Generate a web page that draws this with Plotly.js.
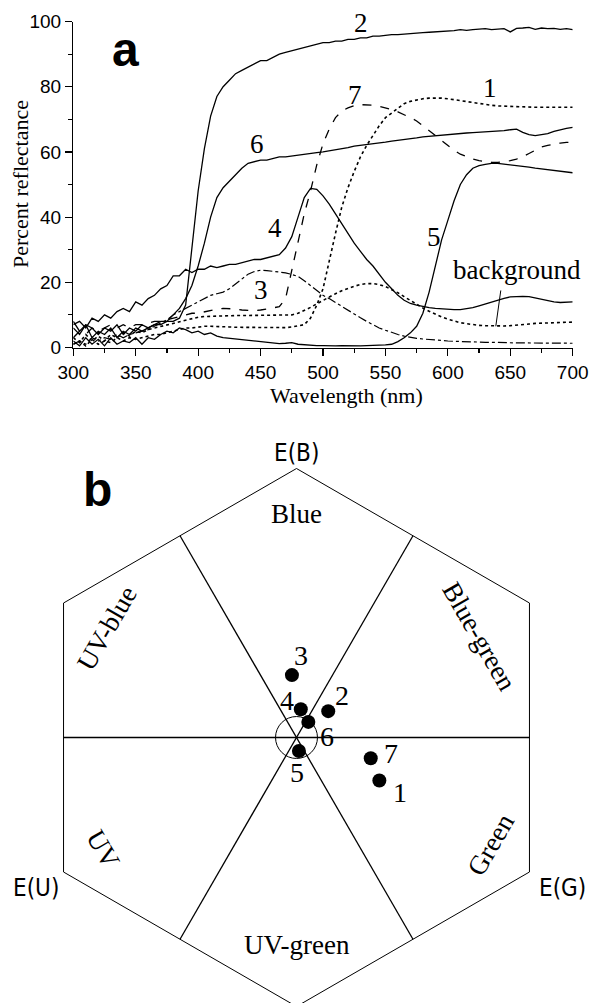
<!DOCTYPE html>
<html>
<head>
<meta charset="utf-8">
<script src="https://cdn.plot.ly/plotly-3.0.1.min.js"></script>
<style>html,body{margin:0;padding:0;background:#fff;}#chart{width:589px;height:1003px;}</style>
</head>
<body>
<div id="chart"></div>
<script>
// ---------- Panel a data: reflectance spectra ----------
const wavelength = [300,305,310,315,320,325,330,335,340,345,
  350,355,360,365,370,375,380,385,390,395,
  400,405,410,415,420,425,430,435,440,445,
  450,455,460,465,470,475,480,485,490,495,
  500,505,510,515,520,525,530,535,540,545,
  550,555,560,565,570,575,580,585,590,595,
  600,605,610,615,620,625,630,635,640,645,
  650,655,660,665,670,675,680,685,690,695,
  700];

const spectrum1 = [1,2,0.5,2.5,1,2,1.5,3,2,3,
  2.5,3,3.5,4,4,4.5,5,5.5,6,6,
  6.3,6.5,6.5,6.5,6.4,6.3,6.2,6.2,6.1,6,
  6,6,6,6,6.1,6.3,6.6,7,9,13,
  18,27,35,43,49,54,58.5,62,65,68,
  70.5,72,73.5,74.8,75.5,76,76.3,76.5,76.6,76.5,
  76.3,76,75.7,75.3,75,74.7,74.5,74.3,74.1,74,
  73.9,73.8,73.7,73.7,73.7,73.7,73.7,73.7,73.7,73.7,
  73.7];

const spectrum2 = [6,4,7,3,5,4,6,3,5,4,
  6,5,6,7,7,8,8,9,13,31,
  48,61,71,77,80,82,84,85,86,87,
  88,88,89,90,90.5,91,91.5,92,92.5,93,
  93.5,93.5,94,94,94.5,94.5,95,95,95.5,95.5,
  95.8,96,96,96.2,96.4,96.5,96.6,96.7,96.8,97,
  97,97.2,97.5,97.3,97.5,97.6,97.8,97.5,97.7,97.8,
  96.8,97.9,98,98.2,97.6,98,97.8,97.9,97.6,97.8,
  97.5];

const spectrum3 = [1,2,1,3,2,3,2.5,4,3,4,
  4.5,5,5.5,6.5,7.5,8.5,10,11,12,13,
  14,15,16,16.5,17,18,19.5,21,22.5,23.3,
  23.7,23.6,23.4,23.2,22.9,22.4,21.8,20.5,19,17.5,
  16,15,13.8,12.5,11.3,10.2,9.1,8,7,6,
  5.3,4.6,4,3.5,3.1,2.8,2.6,2.4,2.2,2.1,
  2,1.9,1.8,1.8,1.7,1.7,1.6,1.6,1.5,1.5,
  1.5,1.4,1.4,1.4,1.3,1.3,1.3,1.3,1.3,1.3,
  1.3];

const spectrum4 = [7,8,6,9,8,10,9,11,12,11,
  14,13,15,16,18,19,22,22,24,23,
  24,24,25,24.5,25,25.5,25.5,26,26.5,27,
  27,27.5,28,28.5,30.5,34,40,46,48.8,48.5,
  46.5,44,41,38,35,32,29.5,27,25,22.5,
  20,18,16,14.5,13.5,13,12.5,12.2,12,11.8,
  11.7,11.6,11.6,11.8,12.2,12.8,13.4,14,14.6,15.1,
  15.5,15.7,15.7,15.6,15.2,14.7,14.3,14,13.8,14,
  14];

const spectrum5 = [2,0.5,3,1,2.5,0.5,3,1,2,1.5,
  3,1,3,2.5,4,5,4.5,6,5.5,4.5,
  5,4,4.5,3.5,3,2.8,2.5,2.2,2,1.8,
  1.6,1.5,1.3,1.2,1.3,1.5,1,0.8,0.8,0.6,
  0.6,0.5,0.5,0.6,0.5,0.5,0.5,0.6,0.6,0.7,
  0.8,1,1.8,3,4.5,6.5,10.5,17,25,33,
  39,45,50,53,55,55.8,56.2,56.5,56.5,56.3,
  56,55.8,55.5,55.3,55,54.8,54.5,54.2,54,53.8,
  53.6];

const spectrum6 = [8,5,7,6,4,6,5,7,4,6,
  5,7,6,7,8,8,10,12,15,19,
  25,32,40,46,49,51,53,55,56.5,57,
  57.5,57.5,58,58.5,58.5,58.8,59,59.3,59.5,59.8,
  60,60.3,60.5,61,61.3,61.8,62,62.3,62.5,62.8,
  63,63.3,63.5,63.8,64,64.3,64.6,64.8,65,65.2,
  65.4,65.5,65.6,65.8,65.9,66,66,66.2,66.3,66.5,
  66.8,67,66,65.3,65,65.2,65.6,66.3,66.8,67.2,
  67.5];

const spectrum7 = [3,5,4,6,5,6,7,6,7,6,
  7,7,7.5,8,8,8.5,9,9.5,10,10.5,
  10.5,11,11.5,11.8,12,12,11.8,11.5,11.3,11.3,
  11.5,11.8,12,12.5,15,24,33,41,48,56,
  62.5,67,70.5,72.5,73.5,74.2,74.5,74.5,74.3,74,
  73.6,73,72.3,71.5,70.5,69.5,68,66.5,65,63.3,
  62,60.5,59.3,58.5,57.8,57.3,57,56.8,56.8,57,
  57.3,57.8,58.5,59.5,60.5,61.5,62,62.4,62.7,62.9,
  63];

const spectrumBg = [3,1.5,4,2,3.5,2,4,3,4.5,3.5,
  5,4.5,5.5,6,6.5,7,7.5,8,8.5,9,
  9.3,9.5,9.6,9.7,9.8,9.8,9.8,9.8,9.8,9.8,
  9.8,9.8,9.8,9.8,9.8,10,10.5,11.3,12.3,13.4,
  14.5,15.5,16.5,17.4,18.2,18.8,19.3,19.6,19.6,19.3,
  18.7,17.8,16.8,15.6,14.4,13.2,12.1,11.1,10.2,9.4,
  8.7,8.1,7.6,7.3,7,6.8,6.7,6.6,6.6,6.6,
  6.7,6.8,7,7.2,7.4,7.5,7.6,7.7,7.8,7.8,
  7.8];

// ---------- Panel b data: colour hexagon loci ----------
const pointLabels = ["1","2","3","4","5","6","7"];
const pointX = [0.308, 0.118, -0.017, 0.016, 0.009, 0.044, 0.276];
const pointY = [-0.160, 0.098, 0.232, 0.105, -0.050, 0.058, -0.077];
const sectorNames = ["Blue","Blue-green","Green","UV-green","UV","UV-blue"];
const receptorNames = ["E(B)","E(G)","E(U)"];

// ---------- Style / layout config ----------
const W = 589, H = 1003;
const serif = "Liberation Serif, Times New Roman, serif";
const sans = "Liberation Sans, Arial, sans-serif";
const rounded = "DejaVu Sans Condensed, DejaVu Sans, sans-serif";
const px = (x, y) => ({x: x / W, y: 1 - y / H});

const seriesStyle = [
  {y: spectrum1, dash: "dot", width: 1.6},
  {y: spectrum2, dash: "solid", width: 1.3},
  {y: spectrum3, dash: "dashdot", width: 1.2},
  {y: spectrum4, dash: "solid", width: 1.3},
  {y: spectrum5, dash: "solid", width: 1.3},
  {y: spectrum6, dash: "solid", width: 1.3},
  {y: spectrum7, dash: "dash", width: 1.3},
  {y: spectrumBg, dash: "dot", width: 1.6}
];

const traces = seriesStyle.map(s => ({
  type: "scatter", mode: "lines", x: wavelength, y: s.y,
  xaxis: "x", yaxis: "y", hoverinfo: "skip",
  line: {color: "black", width: s.width, dash: s.dash}
}));

// Hexagon geometry (unit radius, pointed top)
const vertexAngles = [90, 30, -30, -90, -150, 150, 90];
const rad = d => d * Math.PI / 180;
traces.push({
  type: "scatter", mode: "lines", xaxis: "x2", yaxis: "y2", hoverinfo: "skip",
  x: vertexAngles.map(a => Math.cos(rad(a))),
  y: vertexAngles.map(a => Math.sin(rad(a))),
  line: {color: "black", width: 1}
});
// Sector boundary lines through the centre, joining opposite edge midpoints
const apothem = Math.cos(rad(30));
const boundaryAngles = [0, 60, 120];
const bx = [], by = [];
boundaryAngles.forEach(a => {
  bx.push(apothem * Math.cos(rad(a)), apothem * Math.cos(rad(a + 180)), null);
  by.push(apothem * Math.sin(rad(a)), apothem * Math.sin(rad(a + 180)), null);
});
traces.push({
  type: "scatter", mode: "lines", xaxis: "x2", yaxis: "y2", hoverinfo: "skip",
  x: bx, y: by, line: {color: "black", width: 1.3}
});
// Points
traces.push({
  type: "scatter", mode: "markers", xaxis: "x2", yaxis: "y2", hoverinfo: "skip",
  x: pointX, y: pointY, marker: {color: "black", size: 14}
});

const annotations = [];
const addText = (text, pos, size, family, extra) => {
  const p = px(pos[0], pos[1]);
  annotations.push(Object.assign({
    text: text, x: p.x, y: p.y, xref: "paper", yref: "paper",
    showarrow: false, xanchor: "center", yanchor: "middle",
    font: {family: family, size: size, color: "black"}
  }, extra || {}));
};

// Panel letters & axis titles
addText("<b>a</b>", [125, 50], 48, sans);
addText("<b>b</b>", [97, 489], 48, sans);
addText("Wavelength (nm)", [346, 395], 22, serif);
addText("Percent reflectance", [21, 184], 22, serif, {textangle: -90});

// Curve labels panel a
const curveLabelPos = {"2": [361, 23], "7": [355, 95], "1": [490, 88], "6": [257, 144],
  "4": [275, 228], "3": [261, 290], "5": [434, 237], "background": [517, 270]};
Object.keys(curveLabelPos).forEach(k => addText(k, curveLabelPos[k], 27, serif));

// Panel b sector labels: [angle, radius, rotation]
const sectorLabelGeom = {
  "Blue": [90, 0.83, 0], "Blue-green": [29, 0.775, 60], "Green": [-29, 0.825, -60],
  "UV-green": [-90, 0.771, 0], "UV": [-150, 0.832, 60], "UV-blue": [150, 0.813, -60]
};
sectorNames.forEach(n => {
  const g = sectorLabelGeom[n];
  annotations.push({
    text: n, xref: "x2", yref: "y2", showarrow: false,
    x: g[1] * Math.cos(rad(g[0])), y: g[1] * Math.sin(rad(g[0])),
    textangle: g[2], font: {family: serif, size: 27, color: "black"}
  });
});
// Receptor corner labels: [angle, radius]
const receptorGeom = {"E(B)": [90, 1.057], "E(G)": [-29.5, 1.135], "E(U)": [-150, 1.118]};
receptorNames.forEach(n => {
  const g = receptorGeom[n];
  annotations.push({
    text: n, xref: "x2", yref: "y2", showarrow: false,
    x: g[1] * Math.cos(rad(g[0])), y: g[1] * Math.sin(rad(g[0])),
    font: {family: rounded, size: 24, color: "black"}
  });
});
// Point labels (pixel offsets)
const pointLabelShift = {"1": [21, -12], "7": [20, 5], "2": [14, 16], "3": [9, 20],
  "4": [-14, 9], "5": [-2, -22], "6": [19, -15]};
pointLabels.forEach((lab, i) => {
  annotations.push({
    text: lab, xref: "x2", yref: "y2", x: pointX[i], y: pointY[i], showarrow: false,
    xshift: pointLabelShift[lab][0], yshift: pointLabelShift[lab][1],
    font: {family: serif, size: 28, color: "black"}
  });
});

const achromaticRadius = 0.078;
const shapes = [
  // leader line for "background" label
  {type: "line", xref: "x", yref: "y", x0: 642.4, y0: 17.5, x1: 638.4, y1: 6.5,
   line: {color: "black", width: 1}},
  {type: "circle", xref: "x2", yref: "y2", x0: -achromaticRadius, x1: achromaticRadius,
   y0: -achromaticRadius, y1: achromaticRadius, line: {color: "black", width: 1}}
];

const axisCommon = {
  showline: true, linecolor: "black", linewidth: 1.3, ticks: "outside", ticklen: 7,
  tickwidth: 1.2, tickcolor: "black", showgrid: false, zeroline: false, mirror: false,
  tickfont: {family: sans, size: 19, color: "black"}, fixedrange: true
};

const layout = {
  width: W, height: H, margin: {l: 0, r: 0, t: 0, b: 0},
  paper_bgcolor: "white", plot_bgcolor: "white", showlegend: false,
  xaxis: Object.assign({}, axisCommon, {
    domain: [73.3 / W, 572.7 / W], range: [300, 700], anchor: "y",
    tick0: 300, dtick: 50,
    minor: {dtick: 25, ticks: "outside", ticklen: 4, tickwidth: 1.2, tickcolor: "black", showgrid: false}
  }),
  yaxis: Object.assign({}, axisCommon, {
    domain: [1 - 347.5 / H, 1 - 21.5 / H], range: [0, 100], anchor: "x",
    tick0: 0, dtick: 20,
    minor: {dtick: 10, ticks: "outside", ticklen: 4, tickwidth: 1.2, tickcolor: "black", showgrid: false}
  }),
  xaxis2: {domain: [0, 1], range: [-296.5 / 269, (W - 296.5) / 269], visible: false, anchor: "y2", fixedrange: true},
  yaxis2: {domain: [0, 1 - 440 / H], range: [-(H - 737.5) / 269, (737.5 - 440) / 269], visible: false, anchor: "x2", fixedrange: true},
  annotations: annotations,
  shapes: shapes
};

Plotly.newPlot("chart", traces, layout, {staticPlot: true, displayModeBar: false});
</script>
</body>
</html>
